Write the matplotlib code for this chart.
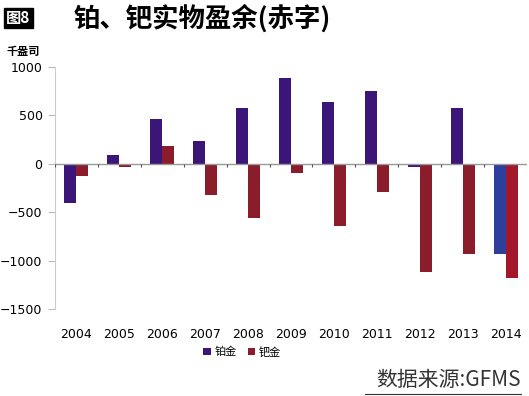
import matplotlib
matplotlib.use("Agg")
import matplotlib.pyplot as plt
import numpy as np

plt.rcParams['font.family'] = ['Noto Sans CJK SC', 'DejaVu Sans']

years = ['2004', '2005', '2006', '2007', '2008', '2009', '2010', '2011', '2012', '2013', '2014']
platinum = [-400, 90, 460, 235, 575, 885, 640, 755, -30, 575, -930]
palladium = [-125, -30, 185, -323, -565, -90, -645, -292, -1115, -928, -1180]

pt_color = '#3b1577'
pd_color = '#8b1c2c'

fig = plt.figure(figsize=(5.29, 3.96), dpi=100)
ax = fig.add_axes([55/529, 87/396, 472/529, 242/396])

x = np.arange(len(years))
w = 0.28
pt_cols = [pt_color] * (len(years) - 1) + ['#2c3f9c']
pd_cols = [pd_color] * (len(years) - 1) + ['#a3172a']
ax.bar(x - w/2, platinum, w, color=pt_cols, label='铂金', zorder=2)
ax.bar(x + w/2, palladium, w, color=pd_cols, label='钯金', zorder=2)

# zero line with category separators
ax.axhline(0, color='#999999', lw=1, zorder=3)
ax.vlines(np.arange(len(years) + 1) - 0.5, -30, 0, color='#555555', lw=0.8, zorder=3)

ax.set_xlim(-0.5, len(years) - 0.5)
ax.set_ylim(-1500, 1000)
ax.set_yticks([1000, 500, 0, -500, -1000, -1500])
ax.set_xticks(x)
ax.set_xticklabels(years)
ax.tick_params(axis='x', length=0, pad=14, labelsize=9)
ax.tick_params(axis='y', length=5, color='#bbbbbb', labelsize=9, pad=4)
for lab in ax.get_xticklabels() + ax.get_yticklabels():
    lab.set_family('DejaVu Sans')

for s in ['top', 'right', 'bottom']:
    ax.spines[s].set_visible(False)
ax.spines['left'].set_color('#cccccc')

fig.text(0.012, 0.955, '图8', color='white', fontsize=11, fontweight='bold', va='center',
         bbox=dict(facecolor='black', edgecolor='black', pad=1.5))
fig.text(74/529, 0.952, '铂、钯实物盈余(赤字)', fontsize=19, fontweight='bold', va='center')
fig.text(0.012, 1 - 51/396, '千盎司', fontsize=8, fontweight='bold', va='center')

fig.legend(loc='center', bbox_to_anchor=(242/529, 1 - 352/396), ncol=2, frameon=False,
           fontsize=8, handlelength=0.7, handleheight=0.7, handletextpad=0.3, columnspacing=1.0)

fig.text(0.985, 1 - 380/396, '数据来源:GFMS', fontsize=15, ha='right', va='center',
         color='#333333', fontweight='light')
fig.add_artist(plt.Line2D([365/529, 521/529], [1 - 394/396, 1 - 394/396], color='#333333', lw=0.8))

fig.savefig('out.png', dpi=100)
